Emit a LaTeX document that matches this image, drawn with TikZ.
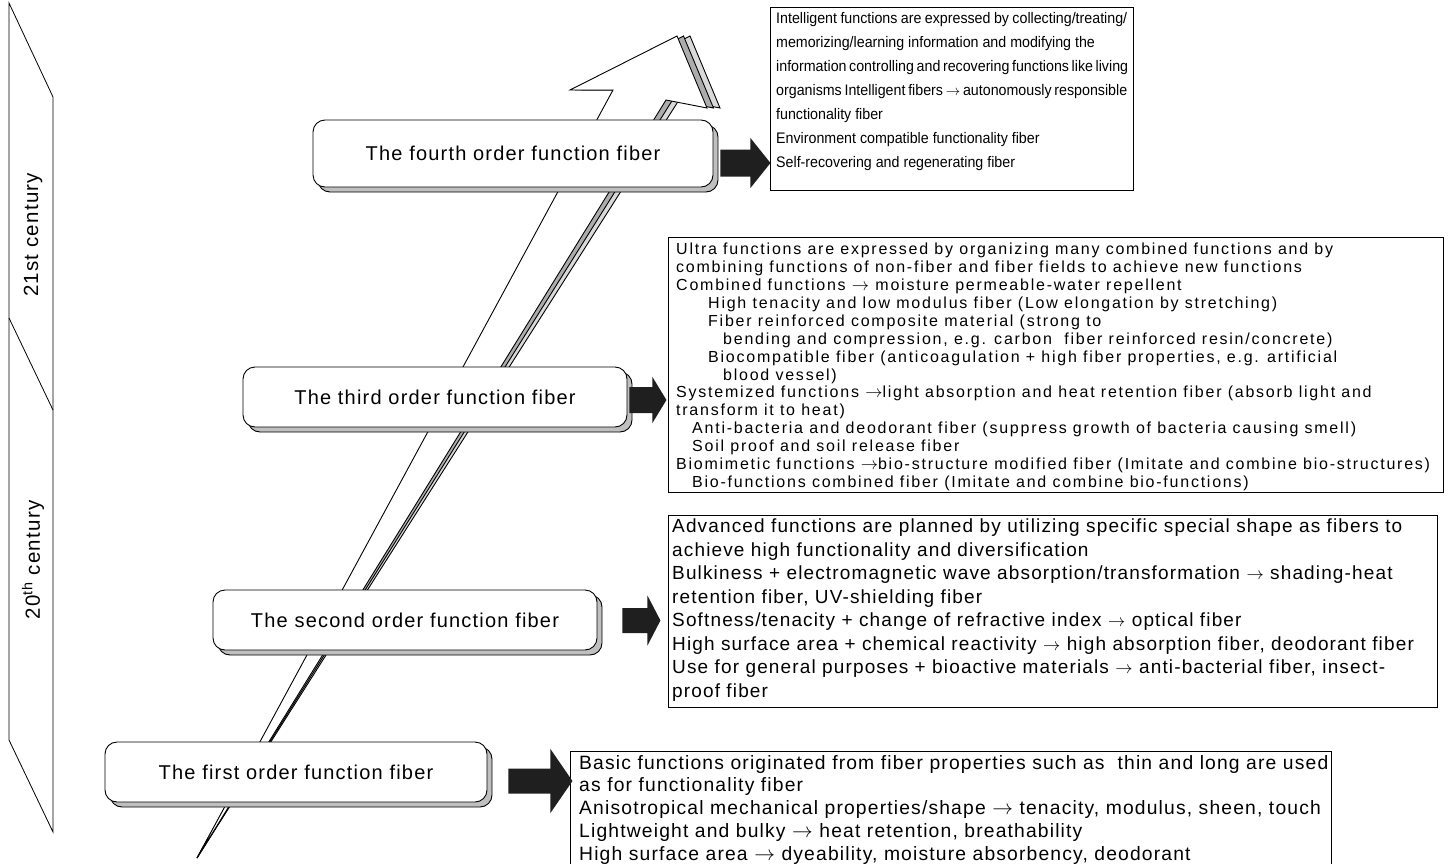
\documentclass[tikz,border=0pt]{standalone}
\usepackage{fontspec}
\setmainfont{Liberation Sans}
\newfontfamily\lblfont[LetterSpace=6]{Liberation Sans}
\newfontfamily\bodyfont[LetterSpace=6]{Liberation Sans}
\newfontfamily\widefont[LetterSpace=11]{Liberation Sans}
\newfontfamily\plainfont[FakeStretch=0.93]{Liberation Sans}
\usetikzlibrary{shadows,calc}
\newcommand\myra{$\rightarrow$}
\newcommand\fullline[1]{\makebox[351pt][s]{#1}}
% #1 start point, #2 body length, #3 body half height, #4 head half height, #5 head length
\newcommand\blkarrow[5]{%
  \fill[blk] (#1) ++(0,-#3) -- ++(#2,0) -- ++(0,#3-#4) -- ++(#5,#4) -- ++(-#5,#4) -- ++(0,#3-#4) -- ++(-#2,0) -- cycle;}
\begin{document}
\begin{tikzpicture}[x=1pt,y=-1pt,
  bigarrow/.style={draw=black, line width=0.9pt, line join=miter},
  roundbox/.style={draw, fill=white, rounded corners=12pt, line width=0.9pt,
    font={\lblfont\fontsize{20}{22}\selectfont},
    general shadow={shadow xshift=5pt, shadow yshift=-5pt, fill=gray!50, draw=black, line width=0.9pt}},
  textbox/.style={draw, line width=0.8pt, anchor=north west, inner sep=0},
  txt/.style={anchor=north west, align=left, inner sep=0},
  blk/.style={fill=black!88},
  axislbl/.style={rotate=90, font={\lblfont\fontsize{20.5}{22}\selectfont}}]
\useasboundingbox (0,0) rectangle (1453,864);

% left time axis
\draw[line width=0.8pt] (9,3) -- (53,97) -- (53,832) -- (9,740) -- cycle;
\draw[line width=0.8pt] (9,318) -- (53,410);
\node[axislbl] (c21) at (33,235) {21st century};
\node[axislbl] (c20) at (33,560) {20\textsuperscript{th} century};

% big 3D arrow
\foreach \s/\c in {13/gray!30, 6.5/gray!65}{
  \draw[bigarrow, fill=\c] (197,858) -- ({613+\s},90) -- ({570+\s},90) -- ({677+\s},36) -- ({707+\s},108) -- ({666+\s},100) -- cycle;
}
\draw[bigarrow, fill=white] (197,858) -- (613,90) -- (570,90) -- (677,36) -- (707,108) -- (666,100) -- cycle;

% rounded stage boxes
\node[roundbox, minimum width=400pt, minimum height=67pt] (b4) at (513,153.5) {The fourth order function fiber};
\node[roundbox, minimum width=384pt, minimum height=60pt] (b3) at (435,397) {The third order function fiber};
\node[roundbox, minimum width=384pt, minimum height=60pt] (b2) at (405,620) {The second order function fiber};
\node[roundbox, minimum width=382pt, minimum height=60pt] (b1) at (296,772) {The first order function fiber};

% text boxes
\node[textbox, minimum width=363pt, minimum height=183pt] (t4) at (770,7) {};
\node[textbox, minimum width=775pt, minimum height=255pt] (t3) at (668,237) {};
\node[textbox, minimum width=769pt, minimum height=192pt] (t2) at (668,515) {};
\node[textbox, minimum width=761pt, minimum height=130pt] (t1) at (570,751) {};

% block arrows (connectors from stage box to text box)
\blkarrow{[shift={(7,9.5)}]b4.east}{30}{13.5}{25}{20}
\blkarrow{[shift={(2,3)}]b3.east}{23}{13}{23}{14}
\blkarrow{[shift={(25,0.5)}]b2.east}{25}{12.5}{25}{13}
\blkarrow{[shift={(21,9)}]b1.east}{42}{12.5}{32}{22}

% texts
\node[txt, font={\plainfont\fontsize{15.3}{24}\selectfont}] (t4x) at ([shift={(6,5)}]t4.north west)
{\fullline{Intelligent functions are expressed by collecting/treating/}\\
memorizing/learning information and modifying the\\
\fullline{information controlling and recovering functions like living}\\
\fullline{organisms Intelligent fibers \myra{} autonomously responsible}\\
functionality fiber\\
Environment compatible functionality fiber\\
Self-recovering and regenerating fiber};

\node[txt, font={\widefont\fontsize{16}{17.9}\selectfont}] (t3x) at ([shift={(8,6)}]t3.north west)
{Ultra functions are expressed by organizing many combined functions and by\\
combining functions of non-fiber and fiber fields to achieve new functions\\
Combined functions \myra{} moisture permeable-water repellent\\
\hspace*{32pt}High tenacity and low modulus fiber (Low elongation by stretching)\\
\hspace*{32pt}Fiber reinforced composite material (strong to\\
\hspace*{47pt}bending and compression, e.g. carbon\ \ fiber reinforced resin/concrete)\\
\hspace*{32pt}Biocompatible fiber (anticoagulation + high fiber properties, e.g. artificial\\
\hspace*{47pt}blood vessel)\\
Systemized functions \myra{}light absorption and heat retention fiber (absorb light and\\
transform it to heat)\\
\hspace*{16pt}Anti-bacteria and deodorant fiber (suppress growth of bacteria causing smell)\\
\hspace*{16pt}Soil proof and soil release fiber\\
Biomimetic functions \myra{}bio-structure modified fiber (Imitate and combine bio-structures)\\
\hspace*{16pt}Bio-functions combined fiber (Imitate and combine bio-functions)};

\node[txt, font={\bodyfont\fontsize{19}{23.5}\selectfont}] (t2x) at ([shift={(4,4)}]t2.north west)
{Advanced functions are planned by utilizing specific special shape as fibers to\\
achieve high functionality and diversification\\
Bulkiness + electromagnetic wave absorption/transformation \myra{} shading-heat\\
retention fiber, UV-shielding fiber\\
Softness/tenacity + change of refractive index \myra{} optical fiber\\
High surface area + chemical reactivity \myra{} high absorption fiber, deodorant fiber\\
Use for general purposes + bioactive materials \myra{} anti-bacterial fiber, insect-\\
proof fiber};

\node[txt, font={\bodyfont\fontsize{19.3}{22.75}\selectfont}] (t1x) at ([shift={(9,4)}]t1.north west)
{Basic functions originated from fiber properties such as\ \ thin and long are used\\
as for functionality fiber\\
Anisotropical mechanical properties/shape \myra{} tenacity, modulus, sheen, touch\\
Lightweight and bulky \myra{} heat retention, breathability\\
High surface area \myra{} dyeability, moisture absorbency, deodorant};
\end{tikzpicture}
\end{document}
